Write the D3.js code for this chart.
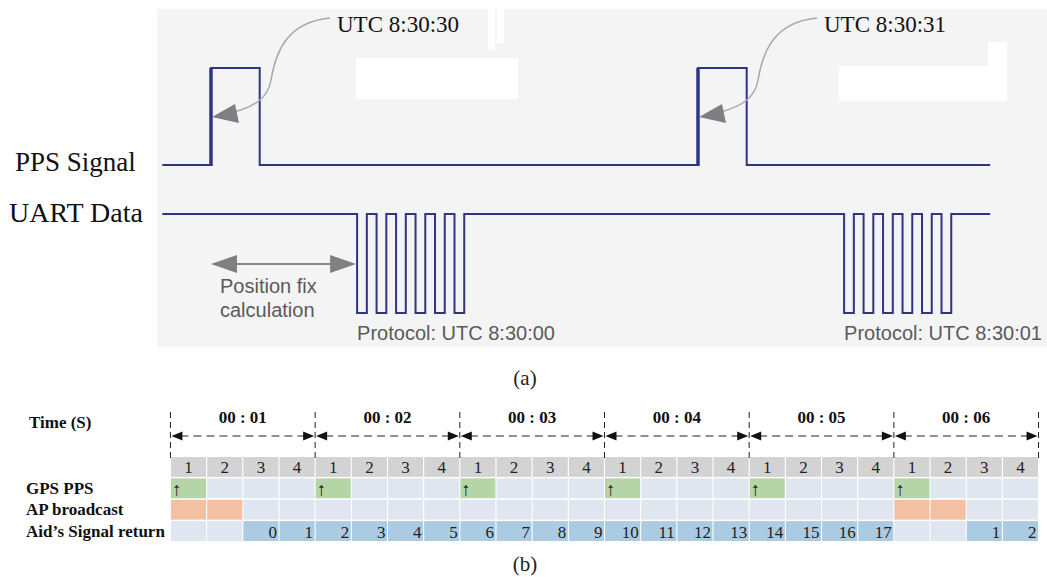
<!DOCTYPE html>
<html><head><meta charset="utf-8">
<script src="https://cdn.jsdelivr.net/npm/d3@7"></script>
<style>html,body{margin:0;padding:0;background:#fff;}svg{display:block;}</style>
</head><body>
<svg id="chart" width="1047" height="577"></svg>
<script>
// ---------- data: panel (a) ----------
const ppsRises = [0, 1];                 // seconds
const ppsWidth = 0.1;                    // seconds
const signalSpan = [-0.1, 1.6];          // seconds shown
const uartStarts = [0.30, 1.30];         // seconds
const uartBits = [0,1,0,1,0,1,0,1,0,1,0];
const uartBitDur = 0.02;                 // seconds
const utcLabels = ["UTC 8:30:30", "UTC 8:30:31"];
const protocolLabels = ["Protocol: UTC 8:30:00", "Protocol: UTC 8:30:01"];
const fixSpan = [0, 0.30];
const signalNames = ["PPS Signal", "UART Data"];

// ---------- data: panel (b) ----------
const secondLabels = ["00 : 01","00 : 02","00 : 03","00 : 04","00 : 05","00 : 06"];
const slotLabels = ["1","2","3","4"];
const rowNames = ["GPS PPS","AP broadcast","Aid\u2019s Signal return"];
const gpsPPS = [1,0,0,0, 1,0,0,0, 1,0,0,0, 1,0,0,0, 1,0,0,0, 1,0,0,0];
const apBroadcast = [1,1,0,0, 0,0,0,0, 0,0,0,0, 0,0,0,0, 0,0,0,0, 1,1,0,0];
const aidReturn = [null,null,0,1, 2,3,4,5, 6,7,8,9, 10,11,12,13, 14,15,16,17, null,null,1,2];

const svg = d3.select("#chart");
const SERIF = "'Liberation Serif','Times New Roman',serif";
const SANS = "'Liberation Sans',Arial,sans-serif";
const NAVY = "#2f3585";

// ---------- panel (a) ----------
svg.append("rect").attr("x",157).attr("y",9).attr("width",890).attr("height",338).attr("fill","#f4f4f4");
// erased-label artifacts
[[356,58,162,41],[488,9,7,41],[497,9,7,34],[839,66,168,35],[988,42,19,59]].forEach(r=>
  svg.append("rect").attr("x",r[0]).attr("y",r[1]).attr("width",r[2]).attr("height",r[3]).attr("fill","#fff"));

const tx = d3.scaleLinear().domain([0,1]).range([211,698]);
const yPPS = d3.scaleLinear().domain([0,1]).range([165,68]);
const yUART = d3.scaleLinear().domain([0,1]).range([313,214]);

// PPS path
const ppsPts = [[signalSpan[0],0]];
ppsRises.forEach(t=>{ ppsPts.push([t,0],[t,1],[t+ppsWidth,1],[t+ppsWidth,0]); });
ppsPts.push([signalSpan[1],0]);
const line = (ys)=>d3.line().x(d=>tx(d[0])).y(d=>ys(d[1]));
svg.append("path").attr("d",line(yPPS)(ppsPts)).attr("fill","none").attr("stroke",NAVY).attr("stroke-width",2);
// thick rising edges
svg.selectAll(".rise").data(ppsRises).join("line")
  .attr("x1",d=>tx(d)).attr("x2",d=>tx(d)).attr("y1",yPPS(0)+1).attr("y2",yPPS(1))
  .attr("stroke",NAVY).attr("stroke-width",3.5);

// UART path
const uPts = [[signalSpan[0],1]];
uartStarts.forEach(t0=>{
  let t=t0, lvl=1;
  uartBits.forEach(b=>{ uPts.push([t,lvl],[t,b]); lvl=b; t+=uartBitDur; uPts.push([t,b]); });
  uPts.push([t,1]);
});
uPts.push([signalSpan[1],1]);
svg.append("path").attr("d",line(yUART)(uPts)).attr("fill","none").attr("stroke",NAVY).attr("stroke-width",2);

// signal names
svg.append("text").attr("x",15).attr("y",171).attr("font-family",SERIF).attr("font-size",27).attr("fill","#111").text(signalNames[0]);
svg.append("text").attr("x",9).attr("y",222).attr("font-family",SERIF).attr("font-size",28).attr("fill","#111").text(signalNames[1]);

// UTC labels with curved arrows
ppsRises.forEach((t,i)=>{
  const dx = tx(t)-tx(0);
  const g = svg.append("g").attr("transform",`translate(${dx},0)`);
  g.append("path").attr("d","M330,18 C288,22 276,50 271,80 C268,98 255,106 234,112")
    .attr("fill","none").attr("stroke","#a8a8a8").attr("stroke-width",1.5);
  g.append("path").attr("d","M212,117 L235,104 L239,123 Z").attr("fill","#7d7f82");
  svg.append("text").attr("x",337+dx).attr("y",32).attr("font-family",SERIF).attr("font-size",23).attr("fill","#111").text(utcLabels[i]);
  svg.append("text").attr("x",tx(uartStarts[i])).attr("y",340).attr("font-family",SANS).attr("font-size",20).attr("fill","#5a5a5a").text(protocolLabels[i]);
});

// position fix double arrow
const ay = 264;
svg.append("line").attr("x1",tx(fixSpan[0])+20).attr("x2",tx(fixSpan[1])-20).attr("y1",ay).attr("y2",ay).attr("stroke","#8a8a8a").attr("stroke-width",2);
svg.append("path").attr("d",`M${tx(fixSpan[0])},${ay} l26,-9 l0,18 Z`).attr("fill","#808080");
svg.append("path").attr("d",`M${tx(fixSpan[1])-1},${ay} l-26,-9 l0,18 Z`).attr("fill","#808080");
svg.append("text").attr("x",220).attr("y",293).attr("font-family",SANS).attr("font-size",20).attr("fill","#5a5a5a").text("Position fix");
svg.append("text").attr("x",220).attr("y",317).attr("font-family",SANS).attr("font-size",20).attr("fill","#5a5a5a").text("calculation");

svg.append("text").attr("x",525).attr("y",385).attr("text-anchor","middle").attr("font-family",SERIF).attr("font-size",21).attr("fill","#222").text("(a)");

// ---------- panel (b) ----------
const nCols = secondLabels.length*slotLabels.length;
const cx = d3.scaleBand().domain(d3.range(nCols)).range([171,1038]).paddingInner(0.03);
const ry = d3.scaleBand().domain(["header","gps","ap","aid"]).range([457,541]).paddingInner(0.07);
const step = cx.step(), gap = step - cx.bandwidth();
const bx = i => (i===nCols ? cx(nCols-1)+cx.bandwidth()+gap/2 : cx(i)-gap/2);

const cols = d3.range(nCols);
// header
svg.selectAll(".hdr").data(cols).join("rect").attr("x",i=>cx(i)).attr("y",ry("header")).attr("width",cx.bandwidth()).attr("height",ry.bandwidth()).attr("fill","#d3d3d3");
svg.selectAll(".hdrt").data(cols).join("text").attr("x",i=>cx(i)+cx.bandwidth()/2).attr("y",ry("header")+ry.bandwidth()-3.5)
  .attr("text-anchor","middle").attr("font-family",SERIF).attr("font-size",17).attr("fill","#222").text(i=>slotLabels[i%4]);
// gps
svg.selectAll(".gps").data(cols).join("rect").attr("x",i=>cx(i)).attr("y",ry("gps")).attr("width",cx.bandwidth()).attr("height",ry.bandwidth()).attr("fill",i=>gpsPPS[i]?"#b5d5a7":"#dfe6f0");
svg.selectAll(".gpst").data(cols.filter(i=>gpsPPS[i])).join("text").attr("x",i=>cx(i)+1).attr("y",ry("gps")+ry.bandwidth()-2)
  .attr("font-family",SERIF).attr("font-size",19).attr("fill","#222").text("\u2191");
// ap
svg.selectAll(".ap").data(cols).join("rect").attr("x",i=>cx(i)).attr("y",ry("ap")).attr("width",cx.bandwidth()).attr("height",ry.bandwidth()).attr("fill",i=>apBroadcast[i]?"#f3c0a3":"#dfe6f0");
// aid
svg.selectAll(".aid").data(cols).join("rect").attr("x",i=>cx(i)).attr("y",ry("aid")).attr("width",cx.bandwidth()).attr("height",ry.bandwidth()).attr("fill",i=>aidReturn[i]!==null?"#abcbe2":"#dfe6f0");
svg.selectAll(".aidt").data(cols.filter(i=>aidReturn[i]!==null)).join("text").attr("x",i=>cx(i)+cx.bandwidth()-1.5).attr("y",ry("aid")+ry.bandwidth()-3)
  .attr("text-anchor","end").attr("font-family",SERIF).attr("font-size",17).attr("fill","#222").text(i=>aidReturn[i]);

// row names
svg.selectAll(".rn").data(rowNames).join("text").attr("x",26).attr("y",(d,i)=>[494,515,537][i])
  .attr("font-family",SERIF).attr("font-weight","bold").attr("font-size",17).attr("fill","#111").text(d=>d);
svg.append("text").attr("x",29).attr("y",428).attr("font-family",SERIF).attr("font-weight","bold").attr("font-size",17).attr("fill","#111").text("Time (S)");

// time boundaries
const bounds = d3.range(secondLabels.length+1).map(k=>bx(k*4));
svg.selectAll(".vb").data(bounds).join("line").attr("x1",d=>d).attr("x2",d=>d).attr("y1",412).attr("y2",458)
  .attr("stroke","#222").attr("stroke-width",1).attr("stroke-dasharray","6,4");
const arrowY = 436;
secondLabels.forEach((lab,k)=>{
  const x0 = bounds[k], x1 = bounds[k+1];
  svg.append("line").attr("x1",x0+10).attr("x2",x1-10).attr("y1",arrowY).attr("y2",arrowY).attr("stroke","#222").attr("stroke-width",1.2).attr("stroke-dasharray","8,5");
  svg.append("path").attr("d",`M${x0+1},${arrowY} l11,-4.5 l0,9 Z`).attr("fill","#111");
  svg.append("path").attr("d",`M${x1-1},${arrowY} l-11,-4.5 l0,9 Z`).attr("fill","#111");
  svg.append("text").attr("x",(x0+x1)/2).attr("y",423).attr("text-anchor","middle").attr("font-family",SERIF).attr("font-weight","bold").attr("font-size",17).attr("fill","#111").text(lab);
});

svg.append("text").attr("x",525).attr("y",571).attr("text-anchor","middle").attr("font-family",SERIF).attr("font-size",21).attr("fill","#222").text("(b)");
</script>
</body></html>
